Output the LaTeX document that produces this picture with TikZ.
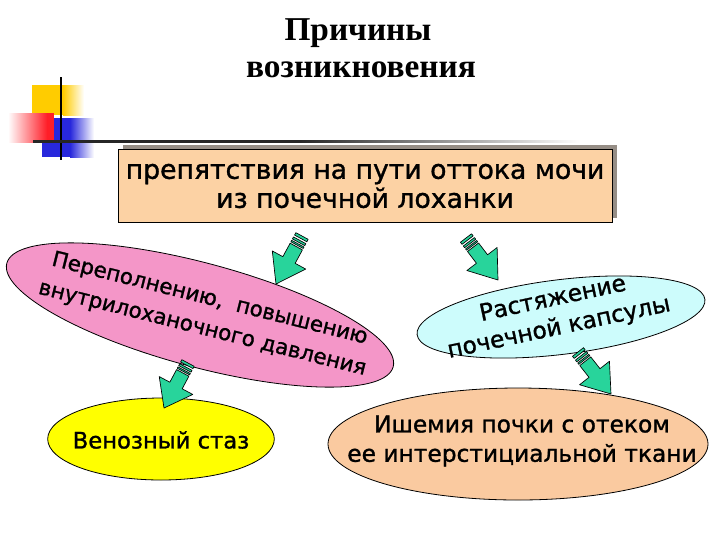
\documentclass[tikz,border=0pt]{standalone}
\usepackage{fontspec}
\setmainfont{Liberation Serif}
\newfontfamily\slidefont{DejaVu Sans}[FakeBold=1.2]
\usetikzlibrary{shapes.geometric,calc}

\definecolor{boxpeach}{RGB}{252,210,164}
\definecolor{causepink}{RGB}{244,150,200}
\definecolor{causecyan}{RGB}{205,252,252}
\definecolor{causeyellow}{RGB}{255,255,0}
\definecolor{causepeach}{RGB}{250,202,160}
\definecolor{arrowgreen}{RGB}{40,212,155}
\definecolor{decoyellow}{RGB}{255,204,0}
\definecolor{decored}{RGB}{255,30,40}
\definecolor{decoblue}{RGB}{40,40,220}
\definecolor{shadowgray}{RGB}{150,142,134}

% point on the arrow axis (fraction #1), moved sideways by #2 (side #3)
\newcommand{\arrowpt}[3]{($($(\tikztostart)!#1!(\tikztotarget)$)!#2!#3:(\tikztotarget)$)}

\tikzset{
  cause/.style={ellipse, draw=black, line width=0.6pt, inner sep=0pt},
  causetext/.style={align=center, inner sep=0pt, font=\slidefont\fontsize{18}{22}\selectfont},
  flowarrow/.style={draw=black, line width=0.5pt, fill=arrowgreen, line join=round,
    to path={
      \arrowpt{0.22}{5.25pt}{90} -- \arrowpt{0.5}{5.25pt}{90} -- \arrowpt{0.5}{14.25pt}{90}
      -- (\tikztotarget) -- \arrowpt{0.5}{14.25pt}{-90} -- \arrowpt{0.5}{5.25pt}{-90}
      -- \arrowpt{0.22}{5.25pt}{-90} -- cycle
      \arrowpt{0}{5.25pt}{90} -- \arrowpt{0.05}{5.25pt}{90} -- \arrowpt{0.05}{5.25pt}{-90} -- \arrowpt{0}{5.25pt}{-90} -- cycle
      \arrowpt{0.09}{5.25pt}{90} -- \arrowpt{0.13}{5.25pt}{90} -- \arrowpt{0.13}{5.25pt}{-90} -- \arrowpt{0.09}{5.25pt}{-90} -- cycle
      \arrowpt{0.16}{5.25pt}{90} -- \arrowpt{0.19}{5.25pt}{90} -- \arrowpt{0.19}{5.25pt}{-90} -- \arrowpt{0.16}{5.25pt}{-90} -- cycle
    }}
}

\begin{document}
\begin{tikzpicture}[x=0.75pt,y=0.75pt,yscale=-1,xscale=1]
\useasboundingbox (0,0) rectangle (720,540);

%Shape: Rectangle (corner marks)
\fill[decoyellow] (32,85) rectangle (63,115);
\shade[left color=decoyellow, right color=white] (63,85) rectangle (84,115);
\fill[decoblue] (42,118) rectangle (70,157);
\shade[left color=decoblue, right color=white] (70,118) rectangle (94,157);
\shade[left color=white, right color=decored] (8,113) rectangle (47,142);
\fill[decored] (47,113) rectangle (54,142);
%Straight Lines
\draw [line width=1.9pt] (61,77) -- (61,160) ;
\fill[black!85] (33,140) rectangle (300,142.6);
\shade[left color=black!85, right color=white] (300,140) rectangle (580,142.6);

% Text Node
\node [anchor=base, font=\bfseries\fontsize{25}{28}\selectfont] (title1) at (358,40) {Причины};
% Text Node
\node [anchor=base, font=\bfseries\fontsize{25}{28}\selectfont] (title2) at (361,77) {возникновения};

%Shape: Rectangle
\fill[shadowgray] (123,145) rectangle (617,218);
\node [draw, line width=0.6pt, fill=boxpeach, minimum width=370.5pt, minimum height=54.75pt,
  align=center, font=\slidefont\fontsize{20}{21.75}\selectfont] (obstacle) at (365,186)
  {препятствия на пути оттока мочи\\из почечной лоханки};

%Shape: Ellipse
\node [cause, fill=causepink, minimum width=300pt, minimum height=78pt, rotate=-15] (overflow) at (200,315) {};
\node [causetext, rotate=-14, font=\slidefont\fontsize{16}{23}\selectfont] (overflowtext) at (206,314) {Переполнению,~ повышению\\внутрилоханочного давления};
%Shape: Ellipse
\node [cause, fill=causecyan, minimum width=217.5pt, minimum height=56pt, rotate=7] (stretch) at (561,317) {};
\node [causetext, rotate=12, font=\slidefont\fontsize{17.5}{22}\selectfont] (stretchtext) at (556,314) {Растяжение\\почечной капсулы};
%Shape: Ellipse
\node [cause, fill=causeyellow, minimum width=170pt, minimum height=61.5pt] (stasis) at (161,439) {};
\node [causetext, font=\slidefont\fontsize{17}{20}\selectfont] (stasistext) at (161,440) {Венозный стаз};
%Shape: Ellipse
\node [cause, fill=causepeach, minimum width=285pt, minimum height=84pt] (ischemia) at (518,444) {};
\node [causetext, font=\slidefont\fontsize{17.5}{22}\selectfont] (ischemiatext) at (522,441) {Ишемия почки с отеком\\ее интерстициальной ткани};

%Block Arrows
\coordinate (t1) at (302,236); \coordinate (h1) at (276,284);
\coordinate (t2) at (466,238); \coordinate (h2) at (498,280);
\coordinate (t3) at (188,363); \coordinate (h3) at (164,408);
\coordinate (t4) at (578,352); \coordinate (h4) at (611,394);
\draw [flowarrow] (t1) to (h1);
\draw [flowarrow] (t2) to (h2);
\draw [flowarrow] (t3) to (h3);
\draw [flowarrow] (t4) to (h4);

\end{tikzpicture}
\end{document}
